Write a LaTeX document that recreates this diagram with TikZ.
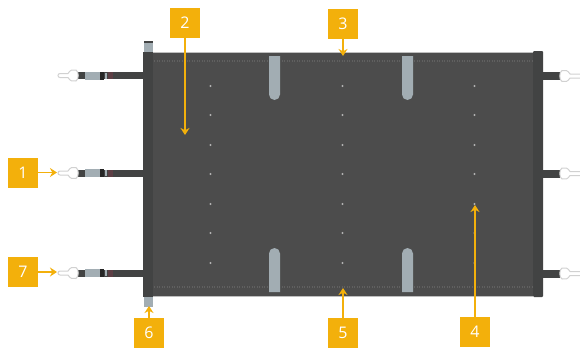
\documentclass[tikz,border=0pt]{standalone}
\definecolor{panelgray}{RGB}{76, 76, 76}
\definecolor{bargray}{RGB}{66, 67, 67}
\definecolor{slotgray}{RGB}{162, 173, 179}
\definecolor{edgegray}{RGB}{190, 190, 190}
\definecolor{stitchgray}{RGB}{96, 96, 96}
\definecolor{calloutamber}{RGB}{243, 176, 11}
\definecolor{strapred}{RGB}{92, 62, 68}
\usepackage{fontspec}
\setmainfont{Open Sans}
\usetikzlibrary{arrows.meta}
\tikzset{
  callout/.style={fill=calloutamber, minimum width=30pt, minimum height=30pt, inner sep=0pt,
    text=white, font=\fontsize{16}{16}\selectfont},
  leader/.style={-{Stealth[length=7pt, width=9pt]}, line width=1.6pt, calloutamber},
  ring/.style={fill=white, draw=edgegray!70, line width=1pt},
  strapleft/.pic={
    \fill[bargray] (78, -3.5) rectangle (143, 3.5);
    \fill[slotgray] (85, -4) rectangle (100, 4);
    \fill[black!85] (100, -4) rectangle (104, 4);
    \fill[slotgray] (105, -3) rectangle (107, 3);
    \fill[strapred] (108, -3.5) rectangle (113, 3.5);
    \draw[ring] (68, -2) .. controls (70, -5.5) and (73, -6.5) .. (76, -5.5)
      .. controls (79, -4) and (79, 4) .. (76, 5.5)
      .. controls (73, 6.5) and (70, 5.5) .. (68, 2)
      -- (60, 2) arc[start angle=90, end angle=270, radius=2] -- cycle;
  },
  strapright/.pic={
    \fill[bargray] (543, -4) rectangle (560, 4);
    \draw[ring] (570, -2) .. controls (568, -5.5) and (565, -6.5) .. (562, -5.5)
      .. controls (559, -4) and (559, 4) .. (562, 5.5)
      .. controls (565, 6.5) and (568, 5.5) .. (570, 2)
      -- (581, 2) -- (581, -2) -- cycle;
  }
}

\begin{document}
\begin{tikzpicture}[x=1pt, y=-1pt]
  \useasboundingbox (0, 0) rectangle (580, 348);
  \clip (0, 0) rectangle (580, 348);

  % Straps
  \foreach \y in {75.5, 173, 273} {
    \pic at (0, \y) {strapleft};
    \pic at (0, \y + 0.5) {strapright};
  }

  % Pegs
  \fill[slotgray] (144, 41) rectangle (153, 53);
  \fill[bargray] (144, 41) rectangle (153, 43);
  \fill[slotgray] (144, 296) rectangle (153, 307);

  % Panel and side bars
  \fill[edgegray] (153, 52) rectangle (533, 297);
  \fill[panelgray] (153, 53) rectangle (533, 296);
  \fill[bargray] (143, 52) rectangle (153, 297);
  \fill[bargray, rounded corners=1pt] (533, 51) rectangle (543, 297);

  % Stitching
  \draw[stitchgray, line width=2pt, dash pattern=on 1pt off 1.5pt] (154, 61) -- (532, 61);
  \draw[stitchgray, line width=2pt, dash pattern=on 1pt off 1.5pt] (154, 287) -- (532, 287);

  % Slots
  \foreach \x in {269, 402} {
    \fill[slotgray] (\x, 56) -- (\x, 94.5) arc[start angle=180, end angle=0, radius=5.5] -- (\x + 11, 56) -- cycle;
    \fill[slotgray] (\x, 292) -- (\x, 253.5) arc[start angle=180, end angle=360, radius=5.5] -- (\x + 11, 292) -- cycle;
  }

  % Eyelets
  \foreach \x in {210.5, 342.5, 474.5} {
    \foreach \y in {86, 115, 145, 174, 204, 233, 263} {
      \fill[white!70!black] (\x, \y) circle (1.2);
    }
  }

  % Callouts
  \node[callout] (num1) at (23, 172.5) {1};
  \node[callout] (num2) at (185, 23) {2};
  \node[callout] (num3) at (343, 23.5) {3};
  \node[callout] (num4) at (475, 332) {4};
  \node[callout] (num5) at (343, 333) {5};
  \node[callout] (num6) at (149, 333) {6};
  \node[callout] (num7) at (23, 272) {7};

  \coordinate (tip1) at (57, 172.5);
  \coordinate (tip2) at (185, 135);
  \coordinate (tip3) at (343, 56);
  \coordinate (tip4) at (475, 205);
  \coordinate (tip5) at (343, 288);
  \coordinate (tip6) at (149, 306);
  \coordinate (tip7) at (57, 272);

  \foreach \n in {1, ..., 7} {
    \draw[leader] (num\n) -- (tip\n);
  }
\end{tikzpicture}
\end{document}
